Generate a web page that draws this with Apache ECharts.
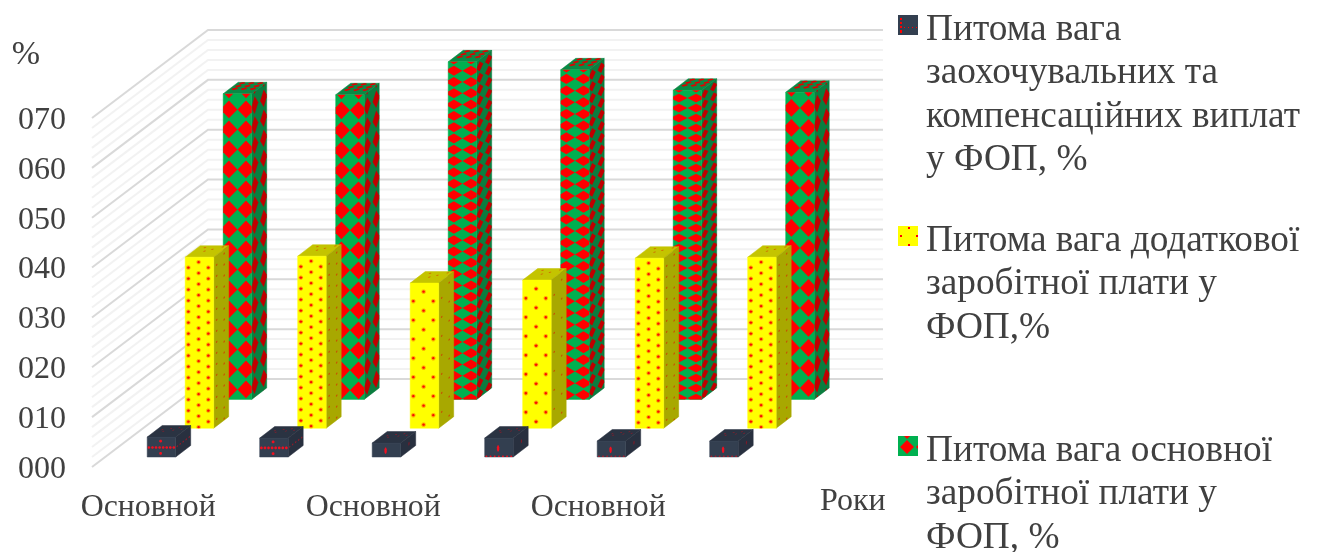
<!DOCTYPE html>
<html>
<head>
<meta charset="utf-8">
<title>Структура фонду оплати праці</title>
<script src="https://cdn.jsdelivr.net/npm/echarts@6/dist/echarts.min.js"></script>
<style>
  html, body { margin: 0; padding: 0; background: #fff; }
  #chart { width: 1318px; height: 552px; }
</style>
</head>
<body>
<div id="chart"></div>
<script>
// Chart data
const categories = ['Основной', 'Основной', 'Основной', 'Основной', 'Основной', 'Основной'];
const bonusShare = [4.0, 3.8, 2.8, 3.8, 3.2, 3.2];
const extraShare = [34.3, 34.5, 29.1, 29.7, 34.1, 34.3];
const baseShare = [61.3, 61.1, 67.7, 66.1, 62.0, 61.6];
const yTickLabels = ['000', '010', '020', '030', '040', '050', '060', '070'];
const wallLevels = [0, 2, 4, 6, 8, 10, 12, 14, 16, 18, 20, 22, 24, 26, 28, 30, 32, 34, 36,
  38, 40, 42, 44, 46, 48, 50, 52, 54, 56, 58, 60, 62, 64, 66, 68, 70];
const bonusName = 'Питома вага\nзаохочувальних та\nкомпенсаційних виплат\nу ФОП, %';
const extraName = 'Питома вага додаткової\nзаробітної плати у\nФОП,%';
const baseName = 'Питома вага основної\nзаробітної плати у\nФОП, %';

// Oblique projection of the depth axis and the box proportions
const WALL_DX = 116, WALL_DY = -88;
const ROW_DX = 38, ROW_DY = -28.8, FIRST_DX = 13.2, FIRST_DY = -10;
const BOX_W = 28.5, BOX_DX = 15, BOX_DY = -11.5;

// Fill texture density per column
const diamondPitch = [20, 20, 11.3, 11.7, 10, 20];
const dotPitch = [11, 11, 19, 19, 11, 11];
const darkMotif = ['cross', 'cross', 'bar', 'barEdge', 'barFaint', 'barFaint'];

const FONT = '"Liberation Serif", "Times New Roman", serif';
const TEXT = '#404040';
const LEGEND_LINE = 43.5;

function clipToFace(poly, h) {
  const edges = [p => p[0], p => 1 - p[0], p => p[1], p => h - p[1]];
  let out = poly;
  edges.forEach(f => {
    const next = [];
    for (let i = 0; i < out.length; i++) {
      const a = out[i], b = out[(i + 1) % out.length];
      const fa = f(a), fb = f(b);
      if (fa >= 0) next.push(a);
      if ((fa >= 0) !== (fb >= 0)) {
        const t = fa / (fa - fb);
        next.push([a[0] + t * (b[0] - a[0]), a[1] + t * (b[1] - a[1])]);
      }
    }
    out = next;
  });
  return out;
}

// A face is an origin plus a horizontal and a vertical edge vector
function face(o, uVec, vVec, fill) {
  return { o, uVec, vVec, h: Math.hypot(vVec[0], vVec[1]), fill, marks: [] };
}
function diamond(face_, u, v, hu, hv, fill) {
  face_.marks.push({ fill, pts: [[u - hu, v], [u, v - hv], [u + hu, v], [u, v + hv]] });
}
function dot(face_, u, v, rPx, fill, stretch) {
  const w = Math.hypot(face_.uVec[0], face_.uVec[1]);
  const pts = [];
  for (let a = 0; a < 8; a++) {
    const t = (a + 0.5) * Math.PI / 4;
    pts.push([u + Math.cos(t) * rPx / w, v + Math.sin(t) * rPx * (stretch || 1)]);
  }
  face_.marks.push({ fill, pts });
}
function faceShapes(f) {
  const map = p => [
    f.o[0] + p[0] * f.uVec[0] + (p[1] / f.h) * f.vVec[0],
    f.o[1] + p[0] * f.uVec[1] + (p[1] / f.h) * f.vVec[1]
  ];
  const list = [{
    type: 'polygon', silent: true,
    shape: { points: [[0, 0], [1, 0], [1, f.h], [0, f.h]].map(map) },
    style: { fill: f.fill, stroke: f.fill, lineWidth: 0.5 }
  }];
  f.marks.forEach(m => {
    const pts = clipToFace(m.pts, f.h);
    if (pts.length > 2) {
      list.push({ type: 'polygon', silent: true, shape: { points: pts.map(map) }, style: { fill: m.fill } });
    }
  });
  return list;
}

function paintBase(faces, i) {
  const p = diamondPitch[i];
  const rows = Math.ceil(faces.front.h / p) + 2;
  for (let k = -1; k < rows; k++) {
    const v = 0.78 * p + k * p;
    [0.2, 0.8].forEach(u => diamond(faces.front, u, v, 0.3, p * 0.44, '#FF0000'));
    [0.2, 0.8].forEach(u => diamond(faces.side, u, v - 2, 0.24, p * 0.44, '#C00000'));
  }
  [1.5, 6.2, 10.8].forEach(v => [0.18, 0.5, 0.82].forEach(u =>
    diamond(faces.top, u, v, 0.12, 2.2, '#E00000')));
}
function paintExtra(faces, i) {
  const p = dotPitch[i];
  const rows = Math.ceil(faces.front.h / p) + 1;
  const dotsOn = (f, u, v, r, halo, core) => { dot(f, u, v, r + 1.1, halo); dot(f, u, v, r, core); };
  for (let k = 0; k < rows; k++) {
    [0.11, 0.81].forEach(u => dotsOn(faces.front, u, 0.95 * p + k * p, 1.3, '#FFB000', '#F81000'));
    dotsOn(faces.front, 0.47, 0.45 * p + k * p, 1.3, '#FFB000', '#F81000');
    dot(faces.side, 0.2, 0.9 * p + k * p, 1.0, '#C85000');
    dot(faces.side, 0.7, 0.4 * p + k * p, 1.0, '#C85000');
  }
  [[0.25, 3], [0.6, 6], [0.85, 2], [0.4, 9]].forEach(q => dot(faces.top, q[0], q[1], 1.1, '#D07000'));
}
function paintBonus(faces, i) {
  const motif = darkMotif[i];
  const h = faces.front.h;
  if (motif === 'cross') {
    for (let n = 0; n < 8; n++) dot(faces.front, 0.06 + n * 0.125, h * 0.52, 1.4, '#F01020');
    [0.2, 0.82].forEach(v => dot(faces.front, 0.47, h * v, 1.5, '#F01020'));
    for (let n = 0; n < 5; n++) dot(faces.side, 0.1 + n * 0.2, h * 0.52, 0.9, '#9A1A28');
  } else {
    dot(faces.front, 0.47, h * 0.55, 1.3, '#F01020', 2.6);
    dot(faces.side, 0.55, h * 0.5, 0.8, '#7A1A28', 2.4);
    if (motif !== 'bar') {
      const colour = motif === 'barEdge' ? '#F01020' : '#A02030';
      for (let n = 0; n < 7; n++) dot(faces.front, 0.06 + n * 0.145, h - 0.6, 1.0, colour);
    }
  }
  [[0.2, 7], [0.45, 5], [0.7, 3.5], [0.3, 9.5], [0.6, 7.5], [0.85, 6]].forEach(q =>
    dot(faces.top, q[0], q[1], 0.9, '#8A1E2C'));
}

// One series draws one row of boxes, three faces each
function boxSeries(name, values, row, colours, paint, z) {
  return {
    type: 'custom', name, z,
    data: values.map((v, i) => [i, v]),
    encode: { x: 0, y: 1 },
    renderItem(params, api) {
      const i = api.value(0);
      const base = api.coord([i, 0]);
      const top = api.coord([i, api.value(1)]);
      const x0 = base[0] + FIRST_DX + row * ROW_DX - BOX_W / 2;
      const shiftY = FIRST_DY + row * ROW_DY;
      const yBottom = base[1] + shiftY;
      const yTop = top[1] + shiftY;
      const height = yBottom - yTop;
      const faces = {
        front: face([x0, yTop], [BOX_W, 0], [0, height], colours[0]),
        side: face([x0 + BOX_W, yTop], [BOX_DX, BOX_DY], [0, height], colours[1]),
        top: face([x0 + BOX_DX, yTop + BOX_DY], [BOX_W, 0], [-BOX_DX, -BOX_DY], colours[2])
      };
      paint(faces, i);
      return {
        type: 'group',
        children: faceShapes(faces.top).concat(faceShapes(faces.side), faceShapes(faces.front))
      };
    }
  };
}

// Side and back walls of the plot, one bent line per level
const wallSeries = {
  type: 'custom', name: 'wall', z: 1, silent: true,
  data: wallLevels.map(v => [0, v]),
  encode: { y: 1 },
  renderItem(params, api) {
    const level = api.value(1);
    const p = api.coord([0, level]);
    const left = params.coordSys.x;
    const right = left + params.coordSys.width;
    const major = level % 10 === 0;
    return {
      type: 'polyline', silent: true,
      shape: { points: [[left, p[1]], [left + WALL_DX, p[1] + WALL_DY], [right + WALL_DX, p[1] + WALL_DY]] },
      style: { fill: 'none', stroke: major ? '#D9D9D9' : '#F2F2F2', lineWidth: 2 }
    };
  }
};

// Legend swatches: the lower part of the icon box stays empty so the text sits a little lower
function swatch(bg, draw) {
  const c = document.createElement('canvas');
  c.width = 20; c.height = 30;
  const g = c.getContext('2d');
  g.fillStyle = bg; g.fillRect(0, 0, 20, 20);
  g.fillStyle = '#FF0000';
  g.save();
  g.beginPath(); g.rect(0, 0, 20, 20); g.clip();
  draw(g);
  g.restore();
  return { image: c, repeat: 'no-repeat' };
}
const bonusSwatch = swatch('#333F50', g => {
  [3, 7, 11, 15].forEach(y => g.fillRect(2, y, 2, 2));
  [6, 10, 14, 18].forEach(x => g.fillRect(x, 12, 1, 1));
  g.fillRect(2, 16, 2, 2);
});
const extraSwatch = swatch('#FFFF00', g => {
  [[11, 1], [3, 9], [11, 18], [19, 9]].forEach(q => g.fillRect(q[0] - 1, q[1], 2, 2));
});
const baseSwatch = swatch('#00B050', g => {
  const d = (x, y, r) => {
    g.beginPath(); g.moveTo(x - r, y); g.lineTo(x, y - r); g.lineTo(x + r, y); g.lineTo(x, y + r); g.fill();
  };
  d(9, 11, 7); d(9, -1, 4); d(20, 11, 2);
});

// Blank lines above the name keep the swatch level with its first line
function legendFor(name, swatchFill, firstLineY) {
  const extraLines = name.split('\n').length - 1;
  return {
    left: 898, top: firstLineY - LEGEND_LINE / 2 - extraLines * LEGEND_LINE, padding: 0,
    orient: 'vertical', selectedMode: false,
    data: [name], icon: 'rect', itemWidth: 20, itemHeight: 30,
    itemStyle: { color: swatchFill, borderWidth: 0 },
    formatter: n => '\n'.repeat(extraLines) + n,
    textStyle: { fontFamily: FONT, fontSize: 37.3, lineHeight: LEGEND_LINE, color: TEXT, padding: [0, 0, 0, 3] }
  };
}

const chart = echarts.init(document.getElementById('chart'));
chart.setOption({
  animation: false,
  backgroundColor: '#fff',
  grid: { left: 92, width: 675, top: 118, height: 349 },
  legend: [
    legendFor(bonusName, bonusSwatch, 30),
    legendFor(extraName, extraSwatch, 241),
    legendFor(baseName, baseSwatch, 451)
  ],
  xAxis: {
    type: 'category', data: categories,
    axisLine: { show: false }, axisTick: { show: false }, splitLine: { show: false },
    axisLabel: { interval: 1, margin: 25, fontFamily: FONT, fontSize: 31.8, color: TEXT },
    name: 'Роки', nameLocation: 'end', nameGap: 53,
    nameTextStyle: { fontFamily: FONT, fontSize: 32, color: TEXT, align: 'left', verticalAlign: 'top', lineHeight: 70 }
  },
  yAxis: {
    type: 'value', min: 0, max: 70, interval: 10,
    axisLine: { show: false }, axisTick: { show: false }, splitLine: { show: false },
    axisLabel: {
      margin: 26, fontFamily: FONT, fontSize: 32, color: TEXT, verticalAlign: 'top', lineHeight: 5,
      formatter: v => yTickLabels[v / 10]
    },
    name: '%', nameLocation: 'end', nameGap: 46,
    nameTextStyle: { fontFamily: FONT, fontSize: 34, color: TEXT, align: 'center', padding: [0, 132, 0, 0] }
  },
  series: [
    wallSeries,
    boxSeries(baseName, baseShare, 2, ['#00B050', '#0B7D3F', '#0A8A45'], paintBase, 2),
    boxSeries(extraName, extraShare, 1, ['#FFFF00', '#A8A800', '#C4C400'], paintExtra, 3),
    boxSeries(bonusName, bonusShare, 0, ['#333F50', '#28303F', '#2A3342'], paintBonus, 4)
  ]
});
</script>
</body>
</html>
